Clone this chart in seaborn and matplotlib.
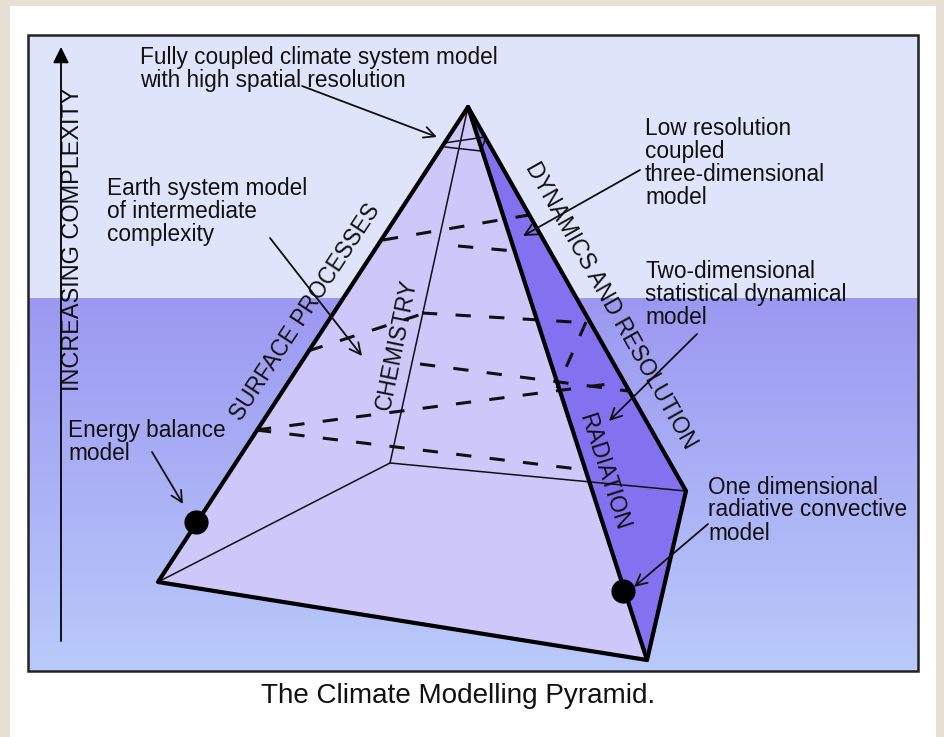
import numpy as np
import pandas as pd
import matplotlib
matplotlib.use("Agg")
import matplotlib.pyplot as plt
from matplotlib.patches import Polygon, Rectangle
import seaborn as sns

sns.set_theme(style="white")
plt.rcParams["font.family"] = ["Liberation Sans", "DejaVu Sans"]

# ---------------- data (diagram geometry, pixel space) ----------------
apex = (468, 107)
corner_left = (158, 582)
corner_front = (647, 660)
corner_right = (686, 491)
corner_back = (390, 463)

# dashed cross-section segments (start/end)
section_x0 = [383, 458, 308, 422, 586, 420, 256, 256]
section_y0 = [240, 246, 351, 313, 322, 364, 430, 430]
section_x1 = [529, 514, 422, 590, 557, 628, 624, 586]
section_y1 = [215, 251, 314, 323, 388, 391, 382, 470]

# small top cross-section (thin)
top_x0 = [444, 445, 481]
top_y0 = [143, 147, 151]
top_x1 = [485, 481, 486]
top_y1 = [137, 151, 137]

# model points
dot_x = [196, 623]
dot_y = [522, 591]

# labels
label_lines = [
    ["Fully coupled climate system model", "with high spatial resolution"],
    ["Earth system model", "of intermediate", "complexity"],
    ["Low resolution", "coupled", "three-dimensional", "model"],
    ["Two-dimensional", "statistical dynamical", "model"],
    ["Energy balance", "model"],
    ["One dimensional", "radiative convective", "model"],
]
label_x = [140, 107, 645, 645, 68, 708]
label_y = [57, 188, 128, 271, 430, 487]

arrow_start = [(302, 86), (270, 238), (640, 170), (697, 334), (152, 452), (708, 524)]
arrow_end = [(437, 137), (362, 356), (523, 236), (609, 421), (183, 504), (634, 587)]

edge_labels = ["SURFACE PROCESSES", "CHEMISTRY", "DYNAMICS AND RESOLUTION", "RADIATION"]
edge_label_x = [305, 397, 611, 604]
edge_label_y = [312, 345, 306, 472]
edge_label_rot = [56.7, 78.5, -60.5, -72.2]

title = "The Climate Modelling Pyramid."
axis_label = "INCREASING COMPLEXITY"

# ---------------- figure ----------------
W, H = 945, 737
fig = plt.figure(figsize=(W / 100, H / 100), dpi=100)
fig.patch.set_facecolor("#e7e0d5")
ax = fig.add_axes([0, 0, 1, 1])
ax.set_xlim(0, W)
ax.set_ylim(H, 0)
ax.axis("off")

# white card
ax.add_patch(Rectangle((10, 6), 926, 740, facecolor="white", edgecolor="none", zorder=0))
# light upper band
ax.add_patch(Rectangle((28, 35), 890, 263, facecolor="#e0e4fa", edgecolor="none", zorder=1))
# gradient lower band
top_c = np.array([156, 152, 241]) / 255
bot_c = np.array([186, 202, 250]) / 255
n = 256
t = np.linspace(0, 1, n)[:, None]
grad = (top_c[None, :] * (1 - t) + bot_c[None, :] * t)[:, None, :]
grad = np.repeat(grad, 2, axis=1)
ax.imshow(grad, extent=(28, 918, 671, 298), aspect="auto", origin="upper", zorder=1)
ax.set_xlim(0, W)
ax.set_ylim(H, 0)
ax.add_patch(Rectangle((28, 35), 890, 636, facecolor="none", edgecolor="#222222", lw=1.8, zorder=2))

# pyramid faces
ax.add_patch(Polygon([apex, corner_left, corner_front], closed=True,
                     facecolor="#cdc8f9", edgecolor="none", zorder=3))
ax.add_patch(Polygon([apex, corner_front, corner_right], closed=True,
                     facecolor="#8272f0", edgecolor="none", zorder=3))

# hidden (thin) edges
thin = dict(color="#111111", lw=1.1, zorder=4, solid_capstyle="round")
for a, b in [(apex, corner_back), (corner_back, corner_left), (corner_back, corner_right)]:
    ax.plot([a[0], b[0]], [a[1], b[1]], **thin)
for x0, y0, x1, y1 in zip(top_x0, top_y0, top_x1, top_y1):
    ax.plot([x0, x1], [y0, y1], **thin)

# dashed cross sections via seaborn
for x0, y0, x1, y1 in zip(section_x0, section_y0, section_x1, section_y1):
    seg = pd.DataFrame({"x": [x0, x1], "y": [y0, y1]})
    sns.lineplot(data=seg, x="x", y="y", sort=False, estimator=None, ax=ax,
                 color="#111111", lw=2.2, linestyle=(0, (5.0, 6.0)), zorder=5)

# thick visible edges
thick = dict(color="black", lw=3.0, zorder=6, solid_capstyle="round", solid_joinstyle="round")
outline = [apex, corner_left, corner_front, corner_right, apex]
ax.plot([p[0] for p in outline], [p[1] for p in outline], **thick)
ax.plot([apex[0], corner_front[0]], [apex[1], corner_front[1]], **thick)

# model dots
sns.scatterplot(x=dot_x, y=dot_y, s=260, color="black", edgecolor="black", ax=ax, zorder=7, legend=False)
ax.set_xlim(0, W)
ax.set_ylim(H, 0)
ax.axis("off")

# labels
fs = 16.3
for lines, x, y in zip(label_lines, label_x, label_y):
    for k, line in enumerate(lines):
        ax.text(x, y + 23 * k, line, fontsize=fs, ha="left", va="center", color="#111111", zorder=8)

for s, x, y, r in zip(edge_labels, edge_label_x, edge_label_y, edge_label_rot):
    ax.text(x, y, s, fontsize=fs, ha="center", va="center", rotation=r,
            rotation_mode="anchor", color="#111111", zorder=8)

ax.text(73, 239, axis_label, fontsize=16.9, ha="center", va="center", rotation=90,
        rotation_mode="anchor", color="#111111", zorder=8)
ax.annotate("", xy=(61, 47), xytext=(61, 641),
            arrowprops=dict(arrowstyle="-|>", lw=1.3, color="black", mutation_scale=24,
                            shrinkA=0, shrinkB=0), zorder=8)

for (sx, sy), (ex, ey) in zip(arrow_start, arrow_end):
    ax.annotate("", xy=(ex, ey), xytext=(sx, sy),
                arrowprops=dict(arrowstyle="->", lw=1.3, color="#111111", mutation_scale=20,
                                shrinkA=0, shrinkB=0), zorder=8)

ax.text(458, 696, title, fontsize=20.1, ha="center", va="center", color="#111111", zorder=8)

fig.savefig("out.png", dpi=100, facecolor=fig.get_facecolor())
